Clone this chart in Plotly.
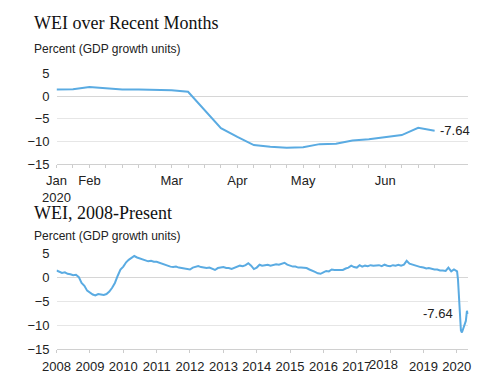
import plotly.graph_objects as go
import pandas as pd

# ---------------- data ----------------
recent_weeks = ["2020-01-18", "2020-01-25", "2020-02-01", "2020-02-08", "2020-02-15",
                "2020-02-22", "2020-02-29", "2020-03-07", "2020-03-14", "2020-03-21",
                "2020-03-28", "2020-04-04", "2020-04-11", "2020-04-18", "2020-04-25",
                "2020-05-02", "2020-05-09", "2020-05-16", "2020-05-23", "2020-05-30",
                "2020-06-06", "2020-06-13", "2020-06-20", "2020-06-27"]
recent_wei = [1.5, 1.55, 2.05, 1.85, 1.5, 1.5, 1.45, 1.35, 1.0, -3.1, -7.05, -9.0,
              -10.8, -11.2, -11.4, -11.3, -10.6, -10.5, -9.8, -9.5, -9.1, -8.6, -7.0, -7.64]
recent_tick_labels = {"2020-01-18": "Jan<br>2020", "2020-02-01": "Feb", "2020-03-07": "Mar",
                      "2020-04-04": "Apr", "2020-05-02": "May", "2020-06-06": "Jun"}

hist_months = [d.strftime("%Y-%m-%d") for d in pd.date_range("2008-01-01", "2019-12-01", freq="MS")]
hist_wei_monthly = (
    [1.4, 1.1, 0.9, 1.0, 0.7, 0.6, 0.4, 0.5, 0.0, -1.2, -1.8, -2.8] +        # 2008
    [-3.3, -3.6, -3.8, -3.5, -3.6, -3.7, -3.5, -3.0, -2.2, -1.2, 0.3, 1.6] +  # 2009
    [2.2, 3.1, 3.6, 4.1, 4.4, 4.1, 3.9, 3.7, 3.5, 3.3, 3.4, 3.2] +           # 2010
    [3.2, 3.0, 2.7, 2.6, 2.3, 2.2, 2.1, 2.2, 2.0, 1.9, 1.9, 1.7] +           # 2011
    [1.6, 2.0, 2.2, 2.3, 2.1, 2.0, 1.9, 2.0, 1.8, 1.5, 1.9, 2.0] +           # 2012
    [2.1, 1.9, 1.9, 1.7, 1.9, 2.2, 2.4, 2.3, 2.5, 2.9, 2.4, 1.7] +           # 2013
    [2.0, 2.6, 2.4, 2.5, 2.6, 2.4, 2.6, 2.7, 2.6, 2.8, 3.0, 2.6] +           # 2014
    [2.4, 2.2, 2.2, 2.0, 2.0, 1.9, 1.9, 1.6, 1.4, 1.1, 0.8, 0.7] +           # 2015
    [1.0, 1.3, 1.2, 1.6, 1.5, 1.5, 1.6, 1.5, 1.8, 2.0, 2.4, 2.1] +           # 2016
    [2.0, 2.5, 2.2, 2.4, 2.3, 2.5, 2.4, 2.4, 2.5, 2.3, 2.6, 2.4] +           # 2017
    [2.3, 2.5, 2.4, 2.6, 2.4, 2.6, 3.4, 2.8, 2.6, 2.4, 2.3, 2.1] +           # 2018
    [2.0, 1.8, 1.9, 1.7, 1.6, 1.6, 1.4, 1.4, 1.3, 2.0, 1.2, 1.6]             # 2019
)
hist_2020_dates = ["2020-01-04", "2020-01-14", "2020-01-29", "2020-02-15", "2020-02-26",
                   "2020-03-26", "2020-04-09", "2020-04-21", "2020-05-01"]
hist_2020_wei = [1.2, -0.5, -5.1, -11.1, -11.5, -10.1, -9.1, -7.0, -7.64]

hist_dates = hist_months + hist_2020_dates
hist_wei = hist_wei_monthly + hist_2020_wei

year_ticks = [f"{y}-01-01" for y in range(2008, 2021)]
year_labels = [str(y) for y in range(2008, 2021)]
year_labels[year_ticks.index("2018-01-01")] = ""   # drawn separately, offset as in source

y_ticks = [5, 0, -5, -10, -15]
last_label = "-7.64"

# ---------------- figure ----------------
W, H = 485, 390
LINE = "#5aabe2"
GRID = "#e6e6e6"
TICKFONT = dict(family="Liberation Sans, Arial, sans-serif", size=13, color="#222")

def px_x(p):
    return p / W

def px_y(p):
    return 1 - p / H

fig = go.Figure()
fig.add_trace(go.Scatter(x=recent_weeks, y=recent_wei, mode="lines",
                         line=dict(color=LINE, width=2), xaxis="x", yaxis="y",
                         hoverinfo="x+y", showlegend=False))
fig.add_trace(go.Scatter(x=hist_dates, y=hist_wei, mode="lines",
                         line=dict(color=LINE, width=2), xaxis="x2", yaxis="y2",
                         hoverinfo="x+y", showlegend=False))

yaxis_common = dict(range=[-15, 5], tickvals=y_ticks, showgrid=True, gridcolor=GRID,
                    gridwidth=1, zeroline=True, zerolinecolor="#d6d6d6", zerolinewidth=1,
                    showline=False, ticks="", tickfont=TICKFONT, ticklabelstandoff=6,
                    fixedrange=True)

fig.update_layout(
    width=W, height=H,
    margin=dict(l=0, r=0, t=0, b=0),
    paper_bgcolor="white", plot_bgcolor="white",
    xaxis=dict(type="category", domain=[px_x(44), px_x(470)], range=[0, 25.06],
               tickmode="array", tickvals=recent_weeks,
               ticktext=[recent_tick_labels.get(w, "") for w in recent_weeks],
               ticks="outside", ticklen=3, tickcolor="#cccccc", showgrid=False,
               showline=True, linecolor="#d0d0d0", linewidth=1, tickfont=TICKFONT,
               tickangle=0, ticklabelstandoff=1, anchor="y", fixedrange=True),
    yaxis=dict(domain=[px_y(163.3), px_y(69.3)], anchor="x", **yaxis_common),
    xaxis2=dict(type="date", domain=[px_x(44), px_x(470)],
                range=["2008-01-01", "2020-05-08"],
                tickmode="array", tickvals=year_ticks, ticktext=year_labels,
                ticks="outside", ticklen=3, tickcolor="#cccccc", showgrid=False,
                showline=True, linecolor="#d0d0d0", linewidth=1, tickfont=TICKFONT,
                tickangle=0, ticklabelstandoff=2, anchor="y2", fixedrange=True),
    yaxis2=dict(domain=[px_y(356), px_y(256)], anchor="x2", **yaxis_common),
)

SERIF = dict(family="Liberation Serif, Georgia, serif", size=18, color="#111")
SUB = dict(family="Liberation Sans, Arial, sans-serif", size=12, color="#222")

annotations = [
    dict(text="WEI over Recent Months", x=px_x(19), y=px_y(17), xref="paper", yref="paper",
         xanchor="left", yanchor="middle", showarrow=False, font=SERIF),
    dict(text="Percent (GDP growth units)", x=px_x(19), y=px_y(43.5), xref="paper", yref="paper",
         xanchor="left", yanchor="middle", showarrow=False, font=SUB),
    dict(text="WEI, 2008-Present", x=px_x(19), y=px_y(214), xref="paper", yref="paper",
         xanchor="left", yanchor="middle", showarrow=False, font=SERIF),
    dict(text="Percent (GDP growth units)", x=px_x(19), y=px_y(238), xref="paper", yref="paper",
         xanchor="left", yanchor="middle", showarrow=False, font=SUB),
    dict(text=last_label, x=recent_weeks[-1], y=recent_wei[-1], xref="x", yref="y",
         xanchor="left", yanchor="middle", xshift=3, showarrow=False, font=TICKFONT),
    dict(text=last_label, x=hist_dates[-1], y=hist_wei[-1], xref="x2", yref="y2",
         xanchor="right", yanchor="middle", xshift=-13, showarrow=False, font=TICKFONT),
    dict(text="2018", x=px_x(382), y=px_y(372), xref="paper", yref="paper",
         xanchor="center", yanchor="middle", showarrow=False, font=TICKFONT),
]
fig.update_layout(annotations=annotations)

fig.write_html("out.html", config={"displayModeBar": False},
               post_script="document.body.style.margin='0';document.body.style.padding='0';"
                           "document.body.style.overflow='hidden';")
